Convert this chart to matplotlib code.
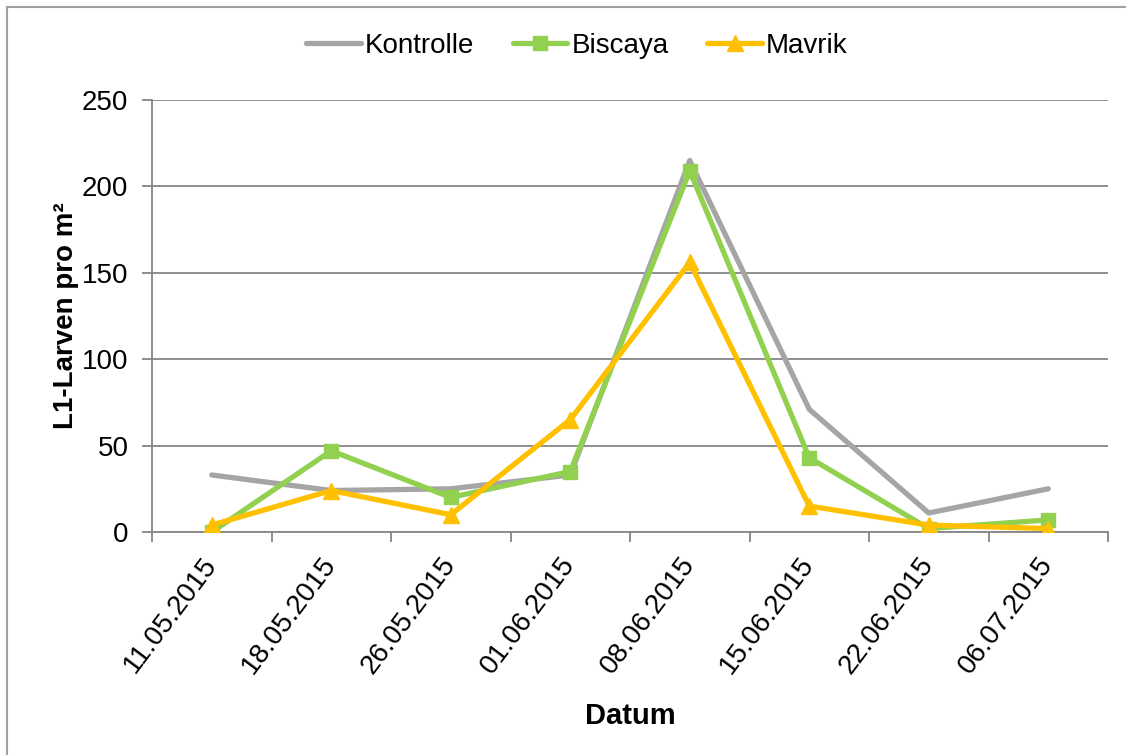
import matplotlib
matplotlib.use("Agg")
import matplotlib.pyplot as plt
from matplotlib.patches import Rectangle

dates = ["11.05.2015", "18.05.2015", "26.05.2015", "01.06.2015",
         "08.06.2015", "15.06.2015", "22.06.2015", "06.07.2015"]
kontrolle = [33, 24, 25, 33, 215, 71, 11, 25]
biscaya = [0, 47, 20, 35, 209, 43, 2, 7]
mavrik = [4, 24, 10, 65, 156, 15, 4, 2]
yticks = [0, 50, 100, 150, 200, 250]

plt.rcParams['font.family'] = ['Liberation Sans', 'DejaVu Sans']

W, H = 1126, 755
fig = plt.figure(figsize=(W / 100, H / 100), dpi=100)
ax = fig.add_axes([152 / W, 1 - 532 / H, (1108 - 152) / W, (532 - 100) / H])

x = list(range(len(dates)))
ax.plot(x, kontrolle, color='#A5A5A5', lw=3.8, solid_capstyle='round',
        solid_joinstyle='round', label='Kontrolle', zorder=3)
ax.plot(x, biscaya, color='#92D050', lw=3.8, marker='s', markersize=10.5,
        solid_capstyle='round', solid_joinstyle='round', label='Biscaya', zorder=4)
ax.plot(x, mavrik, color='#FFC000', lw=3.8, marker='^', markersize=11.5,
        solid_capstyle='round', solid_joinstyle='round', label='Mavrik', zorder=5)

ax.set_xlim(-0.5, len(dates) - 0.5)
ax.set_ylim(0, 250)
ax.set_yticks(yticks)
ax.set_yticklabels([str(v) for v in yticks], fontsize=20)
ax.yaxis.grid(True, color='#868686', lw=1.3)
ax.set_axisbelow(True)

ax.set_xticks(x)
ax.set_xticklabels(dates, rotation=53, ha='right', va='center',
                   rotation_mode='anchor', fontsize=20)
ax.set_xticks([i - 0.5 for i in range(len(dates) + 1)], minor=True)
ax.tick_params(axis='x', which='major', length=0, pad=20)
ax.tick_params(axis='x', which='minor', length=7, width=1.3, color='#868686', direction='out')
ax.tick_params(axis='y', length=7, width=1.3, color='#868686', direction='out', pad=10)

for s in ['top', 'right']:
    ax.spines[s].set_visible(False)
for s in ['left', 'bottom']:
    ax.spines[s].set_color('#868686')
    ax.spines[s].set_linewidth(1.3)

ax.set_ylabel('L1-Larven pro m²', fontsize=20, fontweight='bold', labelpad=2)
ax.set_xlabel('Datum', fontsize=21, fontweight='bold', labelpad=17)

leg = fig.legend(*ax.get_legend_handles_labels(), loc='center',
                 bbox_to_anchor=(577 / W, 1 - 46 / H), ncol=3, frameon=False,
                 fontsize=20, handlelength=1.95, handletextpad=0.15, columnspacing=1.4,
                 borderaxespad=0)

fig.patches.append(Rectangle((7 / W, -0.1), 1.2, 1.1 - 7 / H,
                             transform=fig.transFigure, fill=False,
                             edgecolor='#A0A0A0', lw=1.5))

fig.savefig('out.png', dpi=100)
